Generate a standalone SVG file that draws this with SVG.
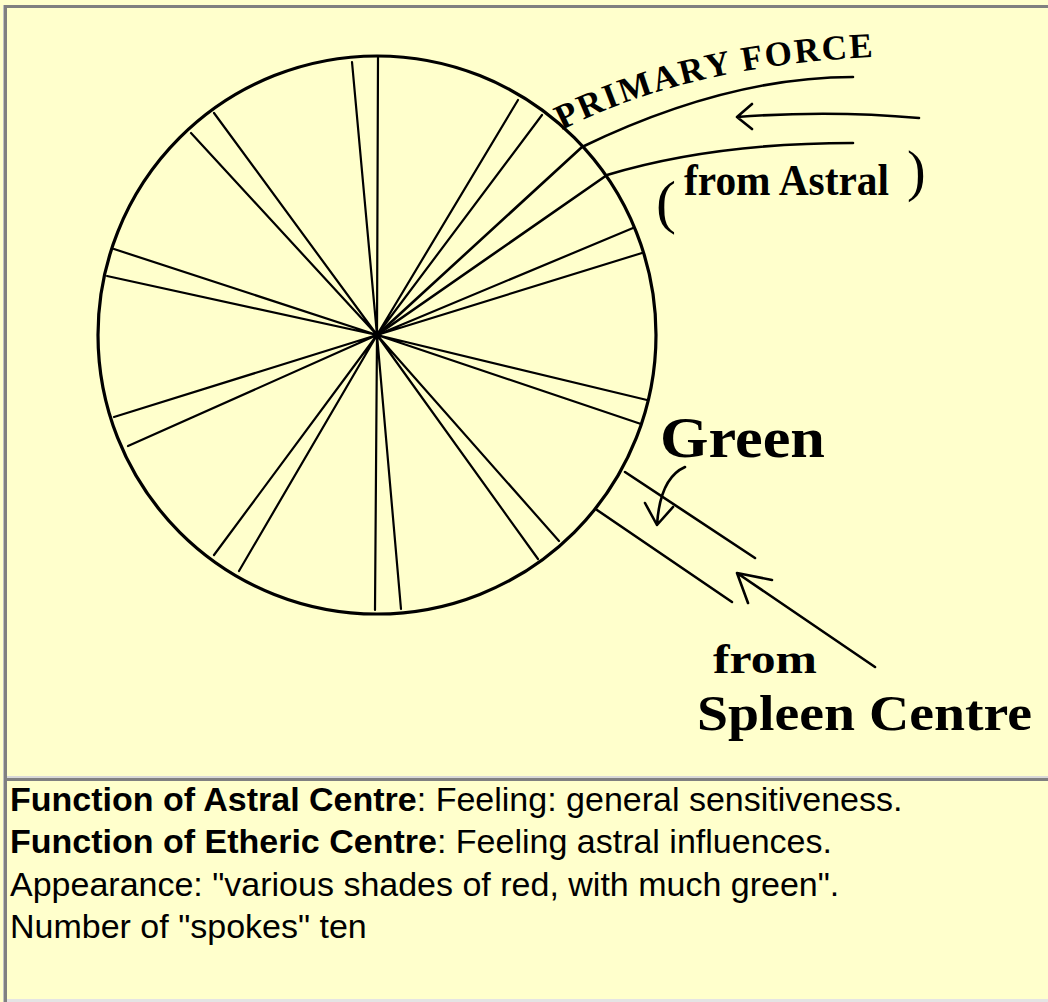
<svg xmlns="http://www.w3.org/2000/svg" width="1048" height="1002" viewBox="0 0 1048 1002">
<style>
.ink{fill:none;stroke:#000;stroke-linecap:round;stroke-linejoin:round}
.spoke{stroke-width:2.2}
.rim{stroke-width:3.2}
.flow{stroke-width:2.6}
.hand{font-family:"Liberation Serif","DejaVu Serif",serif;font-weight:bold;fill:#000}
.body{font-family:"Liberation Sans",Arial,sans-serif;font-size:34px;fill:#000}
.b{font-weight:bold}
</style>
<rect x="0" y="0" width="1048" height="1002" fill="#FFFFCC"/>
<g id="frame">
<rect x="3" y="5" width="1" height="997" fill="#c0c0c0"/>
<rect x="4" y="5" width="3" height="997" fill="#808080"/>
<rect x="4" y="5" width="1044" height="3" fill="#808080"/>
<rect x="7" y="776" width="1041" height="2" fill="#d8d8d8"/>
<rect x="7" y="778" width="1041" height="3" fill="#808080"/>
<rect x="7" y="999" width="1041" height="3" fill="#e4e4e4"/>
</g>
<g id="wheel">
<circle class="ink rim" cx="377" cy="335" r="279"/>
<g class="ink spoke">
<path d="M377,335L352,62M377,335L378,57"/>
<path d="M377,335L518,100M377,335L542,115"/>
<path d="M377,335L633,228M377,335L642,253"/>
<path d="M377,335L647,400M377,335L641,424"/>
<path d="M377,335L559,541M377,335L538,559"/>
<path d="M377,335L401,609M377,335L375,610"/>
<path d="M377,335L239,571M377,335L214,555"/>
<path d="M377,335L128,446M377,335L114,417"/>
<path d="M377,335L107,276M377,335L114,249"/>
<path d="M377,335L191,133M377,335L214,113"/>
</g>
<circle cx="377" cy="335" r="4.5" fill="#000"/>
</g>
<g id="connectors" class="ink flow">
<path id="primary-upper" d="M377,335L582,147Q727,77 853,77"/>
<path id="primary-lower" d="M377,335L607,175Q713,143 853,143"/>
<path id="primary-arrow" d="M919,118Q830,110 737,117M752,104L737,117L752,129"/>
<path id="green-upper" d="M625,472L755,558"/>
<path id="green-lower" d="M597,510L732,602"/>
<path id="green-arrow" d="M685,467Q660,478 657,525M645,503L657,525L673,507"/>
<path id="spleen-arrow" d="M875,667L737,573M772,580L737,573L748,603"/>
</g>
<defs>
<path id="pfArc" d="M562,130Q700,60 905,56"/>
</defs>
<g id="label-primary-force">
<text class="hand" font-size="35" letter-spacing="2"><textPath href="#pfArc">PRIMARY  FORCE</textPath></text>
</g>
<g id="label-from-astral">
<text class="hand" font-size="44"><tspan x="656" y="222" font-size="60" font-weight="normal">(</tspan><tspan x="684" y="195" font-size="44" textLength="205" lengthAdjust="spacingAndGlyphs">from Astral</tspan><tspan x="907" y="190" font-size="56" font-weight="normal">)</tspan></text>
</g>
<g id="label-green">
<text class="hand" x="660" y="457" font-size="58" textLength="165" lengthAdjust="spacingAndGlyphs">Green</text>
</g>
<g id="label-spleen">
<text class="hand" x="713" y="673" font-size="42" textLength="104" lengthAdjust="spacingAndGlyphs">from</text>
<text class="hand" x="697" y="730" font-size="50" textLength="335" lengthAdjust="spacingAndGlyphs">Spleen Centre</text>
</g>
<g id="caption">
<text class="body" x="10" y="811"><tspan class="b">Function of Astral Centre</tspan>: Feeling: general sensitiveness.</text>
<text class="body" x="10" y="853"><tspan class="b">Function of Etheric Centre</tspan>: Feeling astral influences.</text>
<text class="body" x="10" y="896">Appearance: "various shades of red, with much green".</text>
<text class="body" x="10" y="938">Number of "spokes" ten</text>
</g>
</svg>
